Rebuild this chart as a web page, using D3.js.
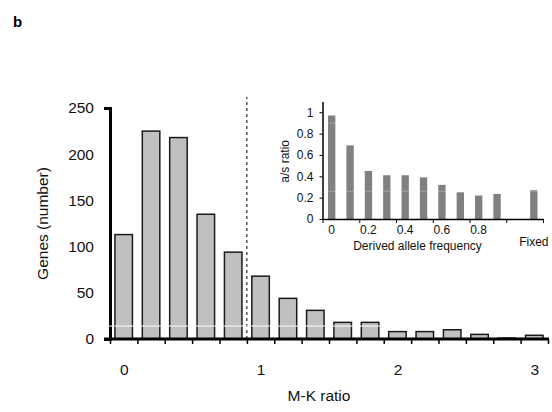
<!DOCTYPE html>
<html>
<head>
<meta charset="utf-8">
<script src="https://cdn.jsdelivr.net/npm/d3@7"></script>
<style>
  body { margin: 0; background: #fff; }
  svg { display: block; font-family: "Liberation Sans", Arial, sans-serif; }
</style>
</head>
<body>
<svg id="chart" width="552" height="412"></svg>
<script>
// main histogram: M-K ratio bins (0, 0.2, ... 3.0)
const mkBins = [0, 0.2, 0.4, 0.6, 0.8, 1.0, 1.2, 1.4, 1.6, 1.8, 2.0, 2.2, 2.4, 2.6, 2.8, 3.0];
const geneCounts = [113, 225, 218, 135, 94, 68, 44, 31, 18, 18, 8, 8, 10, 5, 1, 4];
const mkTickLabels = [0, 1, 2, 3];
const geneTicks = [0, 50, 100, 150, 200, 250];
const mkCutoff = 0.9;

// inset: a/s ratio by derived allele frequency
const freqSlots = ["0", "0.1", "0.2", "0.3", "0.4", "0.5", "0.6", "0.7", "0.8", "0.9", "1.0", "Fixed"];
const freqBars = ["0", "0.1", "0.2", "0.3", "0.4", "0.5", "0.6", "0.7", "0.8", "0.9", "Fixed"];
const asRatio = [0.97, 0.69, 0.45, 0.41, 0.41, 0.39, 0.32, 0.25, 0.22, 0.235, 0.27];
const freqTickLabels = ["0", "0.2", "0.4", "0.6", "0.8"];
const asTicks = [0, 0.2, 0.4, 0.6, 0.8, 1];

const svg = d3.select("#chart");

svg.append("text")
    .attr("x", 13).attr("y", 27)
    .attr("font-size", "15px").attr("font-weight", "bold")
    .text("b");

// ---------- main chart ----------
const mLeft = 110, mRight = 548, mTop = 108, mBottom = 339;

const x = d3.scaleBand()
    .domain(mkBins)
    .range([mLeft, mRight])
    .paddingInner(0.36)
    .paddingOuter(0.18);

// linear version of the same axis, bins are centred on their value
const xLin = d3.scaleLinear()
    .domain([mkBins[0] - 0.1, mkBins[mkBins.length - 1] + 0.1])
    .range([mLeft, mRight]);

const y = d3.scaleLinear().domain([0, 250]).range([mBottom, mTop]);

svg.append("g")
    .selectAll("rect")
    .data(geneCounts)
    .join("rect")
    .attr("x", (d, i) => x(mkBins[i]))
    .attr("y", d => y(d))
    .attr("width", x.bandwidth())
    .attr("height", d => y(0) - y(d))
    .attr("fill", "#c0c0c0")
    .attr("stroke", "#1a1a1a")
    .attr("stroke-width", 1.5);

// cutoff dashed line
svg.append("line")
    .attr("x1", xLin(mkCutoff)).attr("x2", xLin(mkCutoff))
    .attr("y1", y(0)).attr("y2", y(262))
    .attr("stroke", "#000")
    .attr("stroke-width", 1)
    .attr("stroke-dasharray", "3,3");

// x tick marks at bin edges
const binEdges = mkBins.map(d => d - 0.1).concat([mkBins[mkBins.length - 1] + 0.1]);
svg.append("g")
    .attr("transform", `translate(0,${mBottom})`)
    .call(d3.axisBottom(xLin).tickValues(binEdges).tickFormat("").tickSize(5))
    .call(g => g.select(".domain").remove())
    .call(g => g.selectAll(".tick line").attr("stroke", "#000").attr("stroke-width", 1.5));

// x tick labels at bin centres
svg.append("g")
    .attr("transform", `translate(0,${mBottom})`)
    .call(d3.axisBottom(xLin).tickValues(mkTickLabels).tickSize(0).tickPadding(25).tickFormat(d3.format("d")))
    .call(g => g.select(".domain").remove())
    .call(g => g.selectAll("text").attr("font-size", "15.5px").attr("font-family", null).attr("fill", "#111"));

// baseline
svg.append("line")
    .attr("x1", mLeft - 6).attr("x2", mRight + 1)
    .attr("y1", y(0)).attr("y2", y(0))
    .attr("stroke", "#000").attr("stroke-width", 3);

// y axis
svg.append("g")
    .attr("transform", `translate(${mLeft},0)`)
    .call(d3.axisLeft(y).tickValues(geneTicks).tickSizeInner(0).tickSizeOuter(6).tickPadding(16))
    .call(g => g.select(".domain").attr("stroke", "#000").attr("stroke-width", 3))
    .call(g => g.selectAll("text").attr("font-size", "15.5px").attr("font-family", null).attr("fill", "#111"));

svg.append("text")
    .attr("transform", `translate(48,${(mTop + mBottom) / 2}) rotate(-90)`)
    .attr("text-anchor", "middle")
    .attr("font-size", "15.5px")
    .attr("fill", "#111")
    .text("Genes (number)");

svg.append("text")
    .attr("x", 319).attr("y", 401)
    .attr("text-anchor", "middle")
    .attr("font-size", "15.5px")
    .attr("fill", "#111")
    .text("M-K ratio");

// ---------- inset ----------
const iLeft = 322.5, iRight = 543, iTop = 101.6, iBottom = 219;

const xi = d3.scaleBand()
    .domain(freqSlots)
    .range([iLeft, iRight])
    .paddingInner(0.6)
    .paddingOuter(0.3);

const xiLin = d3.scaleLinear().domain([-0.05, 1.15]).range([iLeft, iRight]);
const yi = d3.scaleLinear().domain([0, 1.1]).range([iBottom, iTop]);

svg.append("g")
    .selectAll("rect")
    .data(asRatio)
    .join("rect")
    .attr("x", (d, i) => xi(freqBars[i]))
    .attr("y", d => yi(d))
    .attr("width", xi.bandwidth())
    .attr("height", d => yi(0) - yi(d))
    .attr("fill", "#808080");

// tick marks every two slots
svg.append("g")
    .attr("transform", `translate(0,${iBottom})`)
    .call(d3.axisBottom(xiLin).tickValues(d3.range(-0.05, 1.2, 0.2)).tickFormat("").tickSize(4).tickSizeOuter(0))
    .call(g => g.select(".domain").attr("stroke", "#000").attr("stroke-width", 1.5))
    .call(g => g.selectAll(".tick line").attr("stroke", "#000").attr("stroke-width", 1));

svg.append("g")
    .attr("transform", `translate(0,${iBottom})`)
    .call(d3.axisBottom(xi).tickValues(freqTickLabels).tickSize(0).tickPadding(6))
    .call(g => g.select(".domain").remove())
    .call(g => g.selectAll("text").attr("font-size", "12px").attr("font-family", null).attr("fill", "#111"));

svg.append("text")
    .attr("x", xi("Fixed") + xi.bandwidth() / 2).attr("y", 245.5)
    .attr("text-anchor", "middle")
    .attr("font-size", "12px")
    .attr("fill", "#111")
    .text("Fixed");

svg.append("g")
    .attr("transform", `translate(${iLeft},0)`)
    .call(d3.axisLeft(yi).tickValues(asTicks).tickSizeInner(3).tickSizeOuter(0).tickPadding(6)
        .tickFormat(d => d === 0 || d === 1 ? d3.format("d")(d) : d3.format(".1f")(d)))
    .call(g => g.select(".domain").attr("stroke", "#000").attr("stroke-width", 1.5))
    .call(g => g.selectAll(".tick line").attr("stroke", "#000"))
    .call(g => g.selectAll("text").attr("font-size", "12px").attr("font-family", null).attr("fill", "#111"));

svg.append("text")
    .attr("transform", `translate(289,${(iTop + iBottom) / 2 + 1}) rotate(-90)`)
    .attr("text-anchor", "middle")
    .attr("font-size", "12px")
    .attr("fill", "#111")
    .text("a/s ratio");

svg.append("text")
    .attr("x", 417.5).attr("y", 250)
    .attr("text-anchor", "middle")
    .attr("font-size", "12px")
    .attr("fill", "#111")
    .text("Derived allele frequency");

// scan streaks seen across the original figure
svg.append("line")
    .attr("x1", 0).attr("x2", 552)
    .attr("y1", y(14)).attr("y2", y(14))
    .attr("stroke", "#fff").attr("stroke-width", 1);
[0.9, 0.26].forEach(v => {
    svg.append("line")
        .attr("x1", iLeft + 2).attr("x2", iRight)
        .attr("y1", yi(v)).attr("y2", yi(v))
        .attr("stroke", "#fff").attr("stroke-opacity", 0.25).attr("stroke-width", 1);
});
</script>
</body>
</html>
